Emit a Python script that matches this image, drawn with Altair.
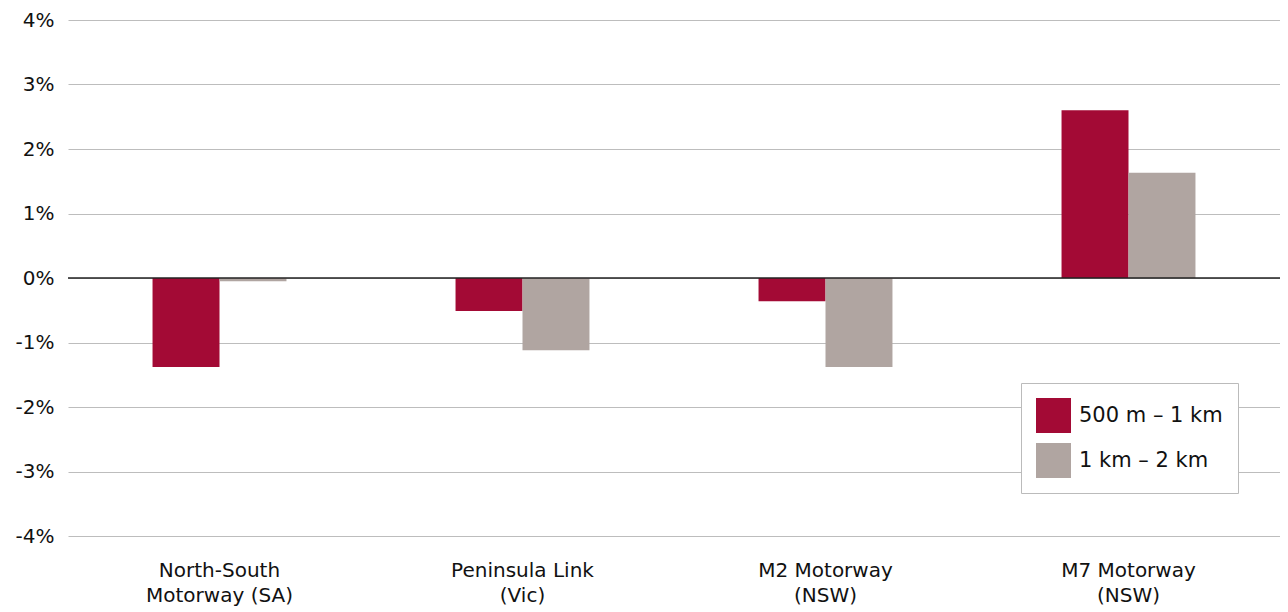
import altair as alt
import pandas as pd

categories = ["North-South|Motorway (SA)", "Peninsula Link|(Vic)", "M2 Motorway|(NSW)", "M7 Motorway|(NSW)"]
series = ["500 m – 1 km", "1 km – 2 km"]
near_vals = [-1.38, -0.51, -0.36, 2.60]
far_vals = [-0.05, -1.12, -1.38, 1.63]
colors = ["#A30A35", "#B0A5A1"]
y_ticks = [-0.04, -0.03, -0.02, -0.01, 0, 0.01, 0.02, 0.03, 0.04]

rows = []
for c, a, b in zip(categories, near_vals, far_vals):
    rows.append({"cat": c, "series": series[0], "val": a / 100})
    rows.append({"cat": c, "series": series[1], "val": b / 100})
df = pd.DataFrame(rows)
zero = pd.DataFrame({"v": [0.0]})

FONT = "DejaVu Sans"
FS = 20

bars = alt.Chart(df).mark_bar().encode(
    x=alt.X("cat:N", sort=categories, title=None,
            scale=alt.Scale(paddingInner=0.558, paddingOuter=0.279),
            axis=alt.Axis(labelExpr="split(datum.value, '|')", labelAngle=0,
                          labelFontSize=FS, labelFont=FONT, labelColor="#111",
                          labelPadding=34, labelLineHeight=25, ticks=False,
                          domain=False, grid=False, labelBaseline="middle")),
    xOffset=alt.XOffset("series:N", sort=series,
                        scale=alt.Scale(paddingOuter=0, paddingInner=0)),
    y=alt.Y("val:Q", title=None,
            scale=alt.Scale(domain=[-0.04, 0.04], nice=False),
            axis=alt.Axis(values=y_ticks,
                          labelExpr="round(datum.value * 100) + '%'",
                          labelFontSize=FS, labelFont=FONT, labelColor="#111",
                          ticks=False, domain=False, labelPadding=14,
                          gridColor="#BDBDBD", gridWidth=1.2)),
    color=alt.Color("series:N", sort=series, title=None,
                    scale=alt.Scale(domain=series, range=colors),
                    legend=alt.Legend(orient="none", legendX=953, legendY=363,
                                      symbolType="square", symbolSize=1225,
                                      symbolStrokeWidth=0, symbolOpacity=1,
                                      labelFontSize=21, labelFont=FONT, labelColor="#111",
                                      rowPadding=10, labelOffset=8, padding=15,
                                      strokeColor="#BBBBBB", fillColor="white",
                                      labelLimit=300)),
)

rule = alt.Chart(zero).mark_rule(color="#222", strokeWidth=1.5).encode(y="v:Q")

chart = alt.layer(bars, rule).properties(
    width=1212, height=516,
    padding={"left": 60, "top": 12, "right": 0, "bottom": 76},
    autosize=alt.AutoSizeParams(type="none"),
).configure_view(stroke=None)

chart.save("out.html", embed_options={"renderer": "svg", "actions": False})
